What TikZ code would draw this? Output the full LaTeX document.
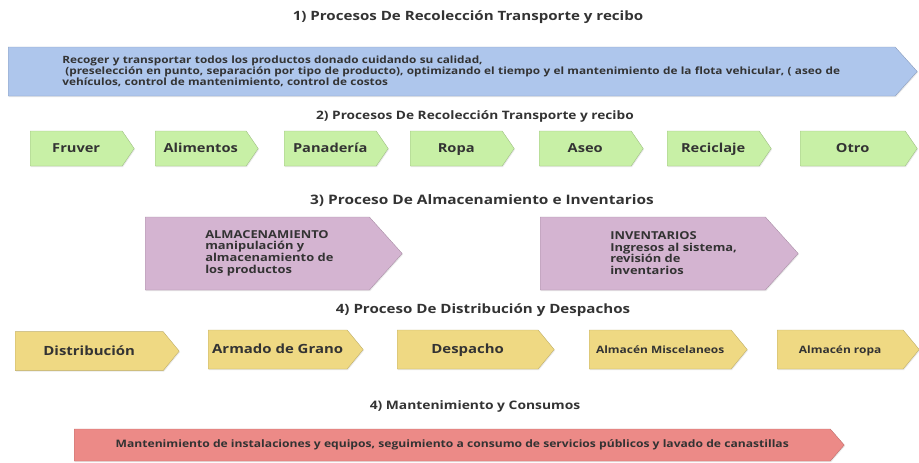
\documentclass[tikz,border=0pt]{standalone}
\usepackage{fontspec}
\setmainfont{Open Sans}[FakeStretch=1.18]
\usepackage{tikz}
\usetikzlibrary{shapes.symbols,shadows}

\definecolor{texto}{HTML}{333333}
\definecolor{azul}{HTML}{AEC6EC}
\definecolor{verde}{HTML}{C8F0A6}
\definecolor{malva}{HTML}{D4B4D1}
\definecolor{amarillo}{HTML}{EFD983}
\definecolor{rojo}{HTML}{EC8A87}

\newcommand{\fs}[2]{\bfseries\fontsize{#1}{#2}\selectfont\lineskiplimit=-5pt}

\tikzset{
  proc/.style={shape=signal, signal to=east, signal from=nowhere,
    fill=#1, draw=#1!80!black, line width=0.3pt, inner sep=0pt,
    text=texto, font=\bfseries,
    drop shadow={shadow xshift=0.6pt, shadow yshift=-0.8pt, opacity=0.18}},
  titulo/.style={text=texto, font=\fs{#1}{11}},
  titulo/.default=9.6
}

\begin{document}
\begin{tikzpicture}[x=0.75pt,y=-0.75pt]
	\useasboundingbox (0,0) rectangle (919,462);
	%
	% 1) recoleccion
	\node[titulo] (t1) at (468,17) {1) Procesos De Recolección Transporte y recibo};
	\node[proc=azul, minimum width=681.75pt, minimum height=36.75pt,
		signal pointer angle=96, text width=584pt, align=left,
		font=\fs{7.5}{8.4}, anchor=west]
		(recol) at (8,71.5) {Recoger y transportar todos los productos donado cuidando su calidad,\\
		\hspace*{0.3em}(preselección en punto, separación por tipo de producto), optimizando el tiempo y el mantenimiento de la flota vehicular, ( aseo de\\
		vehículos, control de mantenimiento, control de costos};
	%
	% 2) tipos de producto
	\node[titulo=8.7] (t2) at (475,116) {2) Procesos De Recolección Transporte y recibo};
	\tikzset{verdes/.style={proc=verde, minimum height=26.25pt, signal pointer angle=111,
		font=\fs{9.3}{11}, text height=1.5ex, text depth=.3ex, anchor=west}}
	\node[verdes, minimum width=78pt] (fruver) at (30,148.5) {Fruver};
	\node[verdes, minimum width=77.25pt] (alim) at (155,148.5) {Alimentos};
	\node[verdes, minimum width=78pt] (pan) at (284,148.5) {Panadería};
	\node[verdes, minimum width=78pt] (ropa) at (410,148.5) {Ropa};
	\node[verdes, minimum width=78pt] (aseo) at (539,148.5) {Aseo};
	\node[verdes, minimum width=78pt] (recic) at (667,148.5) {Reciclaje};
	\node[verdes, minimum width=87.75pt] (otro) at (800,148.5) {Otro};
	%
	% 3) almacenamiento e inventarios
	\node[titulo=9.8] (t3) at (482,201) {3) Proceso De Almacenamiento e Inventarios};
	\tikzset{malvas/.style={proc=malva, minimum height=54.75pt, signal pointer angle=96, anchor=west}}
	\node[malvas, minimum width=192.75pt] (alm) at (145,253.5) {};
	\node[malvas, minimum width=193.5pt] (inv) at (540,253.5) {};
	\tikzset{malvatxt/.style={anchor=west, align=left, inner sep=0pt, text=texto,
		font=\fs{8.2}{8.8}}}
	\node[malvatxt] (almtxt) at (205,253) {ALMACENAMIENTO\\manipulación y\\almacenamiento de\\los productos};
	\node[malvatxt] (invtxt) at (610,253) {INVENTARIOS\\Ingresos al sistema,\\revisión de\\inventarios};
	%
	% 4) distribucion y despachos
	\node[titulo] (t4) at (483,310) {4) Proceso De Distribución y Despachos};
	\tikzset{amarillos/.style={proc=amarillo, minimum height=29.25pt, signal pointer angle=101,
		font=\fs{9.5}{11}, text height=1.5ex, text depth=.3ex, anchor=west}}
	\node[amarillos, minimum width=123pt, yshift=-1.2pt] (distr) at (15,349.5) {Distribución};
	\node[amarillos, minimum width=116.25pt] (armado) at (208,349.5) {Armado de Grano};
	\node[amarillos, minimum width=117.75pt] (desp) at (397,349.5) {Despacho};
	\node[amarillos, minimum width=118.5pt, font=\fs{7.6}{9}] (misc) at (589,349.5) {Almacén Miscelaneos};
	\node[amarillos, minimum width=106.5pt, font=\fs{7.6}{9}] (aropa) at (777,349.5) {Almacén ropa};
	%
	% 5) mantenimiento
	\node[titulo=8.8] (t5) at (475,406) {4) Mantenimiento y Consumos};
	\node[proc=rojo, minimum width=577.5pt, minimum height=24pt, signal pointer angle=98,
		font=\fs{7.7}{9}, anchor=west]
		(mant) at (74,445) {Mantenimiento de instalaciones y equipos, seguimiento a consumo de servicios públicos y lavado de canastillas};
\end{tikzpicture}
\end{document}
